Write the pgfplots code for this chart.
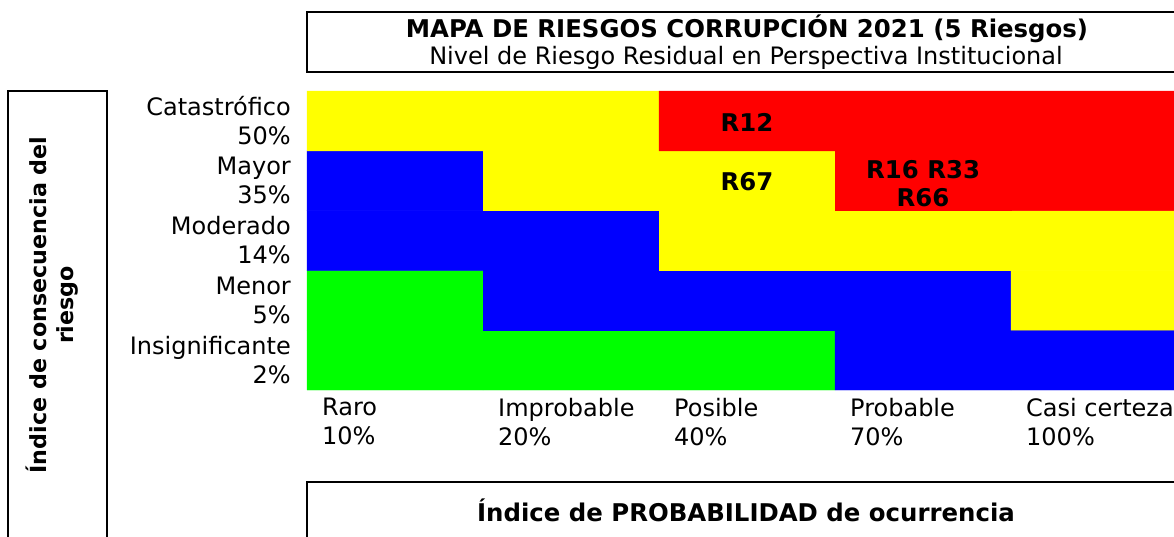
\documentclass[border=0pt]{standalone}
\usepackage{pgfplots}
\pgfplotsset{compat=1.18}
\usepackage{fontspec}
\setmainfont{DejaVu Sans}
\newcommand\rfnt{\fontsize{24bp}{29bp}\selectfont}
\newcommand\bfnt{\fontsize{24.4bp}{28bp}\selectfont\bfseries}
\begin{document}
\rfnt
\begin{tikzpicture}[x=1bp,y=-1bp]
\useasboundingbox (0,0) rectangle (1174,537);
\clip (0,0) rectangle (1174,537);
\begin{axis}[
  at={(307bp,-390bp)}, anchor=south west,
  scale only axis, width=880bp, height=299bp,
  xmin=0,xmax=5,ymin=0,ymax=5,
  axis line style={draw=none},
  major tick length=0pt,
  xtick={0,1,2,3,4},
  xticklabels={{Raro\\10\%},{Improbable\\20\%},{Posible\\40\%},{Probable\\70\%},{Casi certeza\\100\%}},
  xticklabel style={font=\rfnt, align=left, anchor=north west, inner sep=0pt, xshift=15bp, yshift=-8bp},
  ytick={0.5,1.5,2.5,3.5,4.5},
  yticklabels={{Insignificante\\2\%},{Menor\\5\%},{Moderado\\14\%},{Mayor\\35\%},{Catastrófico\\50\%}},
  yticklabel style={font=\rfnt, align=right, anchor=east, inner sep=0pt, xshift=-16bp},
  colormap={risk}{rgb255=(0,255,0) rgb255=(0,0,255) rgb255=(255,255,0) rgb255=(255,0,0)},
  colormap access=direct,
  clip=false,
]
\addplot[matrix plot*, mesh/cols=5, point meta=explicit] table[meta=c] {
x y c
0.5 0.5 0
1.5 0.5 0
2.5 0.5 0
3.5 0.5 1
4.5 0.5 1
0.5 1.5 0
1.5 1.5 1
2.5 1.5 1
3.5 1.5 1
4.5 1.5 2
0.5 2.5 1
1.5 2.5 1
2.5 2.5 2
3.5 2.5 2
4.5 2.5 2
0.5 3.5 1
1.5 3.5 2
2.5 3.5 2
3.5 3.5 3
4.5 3.5 3
0.5 4.5 2
1.5 4.5 2
2.5 4.5 3
3.5 4.5 3
4.5 4.5 3
};
\node[font=\bfnt] at (axis cs:2.5,4.47) {R12};
\node[font=\bfnt] at (axis cs:2.5,3.48) {R67};
\node[font=\bfnt, align=center] at (axis cs:3.5,3.45) {R16 R33\\R66};
\end{axis}
\draw[line width=2bp] (307,12) rectangle (1187,72);
\node[font=\bfnt, anchor=base] at (747,38) {MAPA DE RIESGOS CORRUPCIÓN 2021 (5 Riesgos)};
\node[font=\rfnt, anchor=base] at (746,65) {Nivel de Riesgo Residual en Perspectiva Institucional};
\draw[line width=2bp] (307,482) rectangle (1187,560);
\node[font=\bfnt, anchor=base] at (746,521) {Índice de PROBABILIDAD de ocurrencia};
\draw[line width=2bp] (8,91) rectangle (107,560);
\node[font=\fontsize{22.2bp}{27bp}\selectfont\bfseries, rotate=90, align=center] at (52,305) {Índice de consecuencia del\\riesgo};
\end{tikzpicture}
\end{document}
